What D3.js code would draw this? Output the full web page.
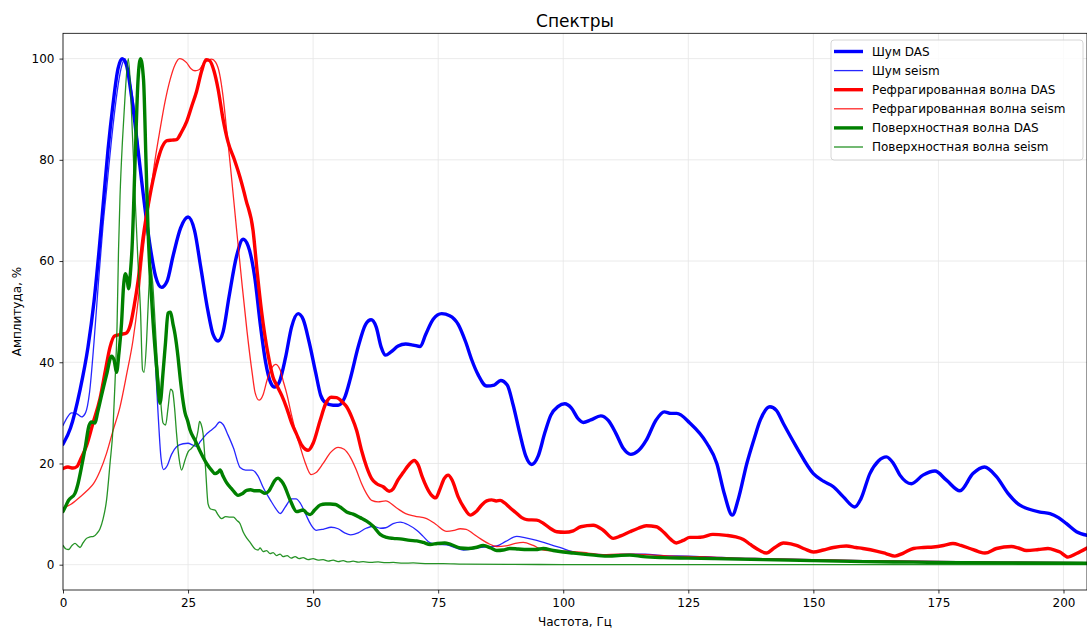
<!DOCTYPE html>
<html>
<head>
<meta charset="utf-8">
<script src="https://cdn.jsdelivr.net/npm/d3@7"></script>
<style>
  html, body { margin: 0; padding: 0; background: #fff; }
  svg { display: block; font-family: "DejaVu Sans", sans-serif; }
</style>
</head>
<body>
<svg id="chart" width="1087" height="628"></svg>
<script>
// ---- Data (frequency Hz, amplitude %) ----
const noiseDas = [[0,23.8],[1.5,27],[3.4,34.5],[5,43],[6.2,52],[7.2,62],[8.1,72],[9,82],[10,91],[11,98],[11.8,100],[12.6,99],[13.7,92.5],[15,82],[15.7,76],[17.4,63],[18.5,57],[19.7,54.8],[20.8,56],[22,61],[23.5,66.5],[25,68.7],[26.3,66],[27.5,59],[29,50],[30,45.5],[31,44.2],[32,46],[33.2,53],[34.7,61],[36,64.3],[37,63],[38.3,57],[39.5,47],[40.5,40],[41.5,36],[42.3,35.1],[43.2,36],[44.5,41],[45.7,47],[47,49.6],[48,48.5],[49.2,44],[50.5,38],[51.5,33.5],[52.5,32],[54,31.5],[55,31.5],[56.3,33],[57.5,37],[59,43],[60.5,47.5],[61.6,48.4],[62.6,47],[63.6,43],[64.5,41.4],[65.5,42],[67,43.2],[68.5,43.6],[70,43.4],[71.4,43.1],[72.5,45.5],[74,48.5],[75.7,49.6],[77.3,49.2],[79,47.5],[80.5,44],[81.7,40.5],[83,37.5],[84.7,35.3],[86.2,35.5],[87.5,36.4],[88.8,35.5],[90,31.5],[91.3,26],[92.5,21.5],[93.7,19.8],[95,21.5],[96.3,26],[97.5,29.5],[99,31.3],[100.3,31.8],[101.6,31],[103,28.8],[104,28.1],[105.5,28.6],[107.5,29.4],[109,28.5],[110.5,26],[112,23],[113.5,21.8],[115,22.5],[116.6,24.6],[118.5,28.5],[120.2,30.2],[121.5,29.9],[122.7,29.9],[125.3,28],[128.7,24],[130.7,20],[132.2,14],[133.8,9.8],[135,13],[136.7,20],[138.2,25],[139.4,28.6],[141.3,31.2],[142.6,30.5],[144,27.9],[146.6,23.3],[150,18],[152,16.5],[154,15.4],[156,13.4],[158.3,11.4],[159.5,13],[161.3,18],[163,20.5],[164.6,21.3],[166,20],[167.3,17.7],[169.6,16],[171.9,17.7],[174.3,18.5],[176.6,16.7],[179.3,14.6],[181.9,18],[184.2,19.3],[186.6,17.4],[188.9,14.1],[191.2,11.8],[193,11],[195.3,10.4],[197.3,10.1],[199,9.3],[200.6,8.1],[202.6,6.5],[204.7,5.8]];

const noiseSeism = [[0,27.5],[0.8,29],[1.7,30],[2.8,29.8],[3.7,29.2],[4.5,30],[5.3,34],[6.2,44],[7.1,56],[8,67],[8.7,74],[9.7,84],[10.7,92.5],[11.6,98],[12.4,100],[13.3,96],[14.4,89],[15.2,81],[16.1,72.5],[17.4,59.5],[18.2,45],[19,30],[19.6,21],[20.1,18.8],[20.8,19.5],[21.7,21.8],[22.7,23.3],[24,23.9],[25,24],[26,23.6],[26.7,23.4],[27.5,24.4],[28.5,25.6],[29.4,26.4],[30.4,27.2],[31.3,28.2],[32,27.7],[33,25.6],[34.1,23],[35.4,19.2],[36.5,18.7],[37.8,18.7],[39,17.5],[40,15.3],[41.5,12.7],[42.6,11],[43.4,10.1],[44.5,11.5],[45.7,13],[46.6,13],[47.4,12.2],[48.5,10],[49.5,8],[50.6,6.8],[52,7],[53.6,7.4],[55,7.1],[56.3,6.3],[57.5,5.9],[59,6.3],[60.6,7.2],[62,7.6],[63.5,7.2],[64.5,7.3],[66,8.1],[67.4,8.4],[69,7.9],[70.7,6.8],[72,5.6],[73.4,4.3],[75,4],[76.7,3.9],[78.5,3.3],[80,2.9],[81.7,3.1],[83.3,3.4],[85,3.5],[86.7,3.7],[88.5,4.6],[90.7,5.6],[92.5,5.3],[94.7,4.8],[97,4.1],[99.3,3.4],[102.6,2.4],[106,2.1],[109.5,2],[113,2.1],[116.4,2.1],[120,1.8],[125,1.7],[130,1.5],[135,1.3],[140,1.2],[145,1.1],[150,1],[155,0.9],[160,0.8],[170,0.7],[180,0.6],[190,0.5],[204.7,0.4]];

const refrDas = [[0,19],[1,19.3],[2,19.1],[2.8,19.4],[3.6,21],[4.7,23.5],[6,28],[7.4,32.8],[8.5,38.5],[9.4,43],[10.3,45.2],[11.5,45.5],[12.7,45.8],[13.5,47.5],[14.2,51],[15,56],[16,64.5],[17.3,72.5],[18.7,79],[19.8,82.5],[20.8,83.8],[21.8,83.9],[22.7,84],[23.7,85.5],[24.7,87.5],[25.7,90.5],[26.7,93.5],[27.7,97.5],[28.6,99.8],[29.3,99.6],[30.2,97.5],[31,94],[32,88],[33,83.5],[34.2,80.2],[35.4,76.5],[36.6,72],[38,66],[38.8,58],[39.7,50],[41,41.5],[42,37],[42.7,35.5],[43.7,33.5],[44.7,31],[45.7,28],[46.6,26],[47.8,23.5],[49,22.6],[50,24],[51.4,28.5],[52.5,31.8],[53.6,33.1],[54.7,33],[55.8,32.2],[56.7,31.2],[57.7,29.2],[58.7,26.5],[59.7,22.5],[60.7,19.3],[61.7,17],[62.7,16],[64,15.4],[65.2,14.5],[66,15],[67,16.8],[68,18.2],[69.2,19.8],[70.2,20.6],[71,19.7],[71.8,17.4],[72.7,15.3],[73.6,13.8],[74.5,13.2],[75.3,14.8],[76.2,17],[77,17.7],[77.8,16.7],[79,13.4],[80.2,11.2],[81.4,9.8],[82.6,10.5],[83.7,11.8],[84.7,12.6],[85.7,12.8],[86.6,12.6],[87.4,12.7],[88.3,12.2],[89.3,11.3],[90.5,10.3],[91.7,9.3],[92.7,8.9],[94.7,8.8],[96,8.2],[97.5,7.1],[98.7,6.5],[100.3,6.4],[102,6.7],[103.5,7.5],[106,7.8],[108,6.8],[110,5.2],[111.5,5.7],[113.3,6.5],[115,7.2],[116.6,7.7],[118.6,7.5],[120.2,6.3],[121.5,5],[122.6,4.3],[124,4.8],[125.3,5.4],[126.8,5.4],[128,5.5],[129.9,6.0],[132.6,5.8],[134.5,5.5],[136,5],[137.4,4],[138.6,3.2],[140.6,2.3],[142.3,3.4],[144,4.3],[145.5,4.1],[146.6,3.8],[148.3,3.1],[150,2.5],[152,2.9],[154,3.4],[156.6,3.7],[158.5,3.4],[159.9,3.2],[162.6,2.7],[164.5,2.2],[166.3,1.7],[168,2.3],[170,3.2],[172,3.4],[174,3.5],[176,3.8],[177.9,4.2],[179.5,3.8],[181.3,3.2],[183,2.6],[184.3,2.3],[186.6,3.2],[189.6,3.6],[191,3.3],[192.6,2.8],[195,3],[196.9,3.2],[198.5,2.8],[199.3,2.5],[200.9,1.5],[202.6,2.2],[204.7,3.3]];

const refrSeism = [[0,11.2],[1.5,11.9],[3.4,13.4],[5,14.8],[6.1,16],[7.4,18.5],[8.7,22],[10,26.5],[11.4,31.2],[12.7,37.5],[14,44.4],[15,52],[16,62],[17.4,72.8],[18.4,80],[19.4,86],[20.4,91.5],[21.4,95.8],[22.4,98.8],[23.3,100],[24.7,99.2],[25.6,98],[26.4,97.6],[27.2,97.8],[27.9,98.7],[28.7,99.5],[29.7,99.9],[30.5,99.3],[31.3,97],[32,92.5],[32.7,86],[33.4,79.4],[34.7,66.2],[35.7,56.3],[36.8,46],[37.8,38],[38.4,34],[39.2,32.5],[40,33.6],[40.8,36.5],[41.8,39],[42.5,39.6],[43.4,38.5],[44.1,36],[44.7,33.9],[45.7,29.5],[46.6,25.9],[47.5,23],[48.3,20.5],[49.6,17.8],[50.6,18.2],[52,20],[53.5,22.2],[55,23.2],[56.2,22.8],[57.4,21.3],[58.6,18.8],[59.7,16],[60.7,14],[61.7,12.7],[63,12.4],[64.5,12.6],[66.7,11.2],[68.5,10.1],[70.3,9.6],[72.7,9.1],[74.5,8],[76.7,6.6],[78.2,6.8],[79.4,7.1],[80.6,7],[82,6.1],[83.5,5.1],[85,4.2],[86.7,3.6],[88.5,3.7],[90.4,4.2],[92,4.4],[94,3.8],[96,2.9],[99.3,2.7],[102,2.6],[105,2.3],[108,2.0],[111,2.1],[114,2.1],[118,1.9],[122,1.7],[126,1.6],[130,1.5],[135,1.3],[140,1.2],[145,1.1],[150,1],[160,0.8],[170,0.7],[180,0.6],[190,0.5],[204.7,0.4]];

const surfDas = [[0,10.5],[0.5,11.5],[1.1,12.7],[2.4,14.1],[3,16],[3.7,19.3],[4.5,23.5],[5.2,27.5],[5.7,28.2],[6.4,28],[6.9,30],[7.6,33],[8.7,37.5],[9.7,41.2],[10.2,40.5],[10.7,38],[11.2,42],[11.7,47.7],[12.1,55],[12.5,57.5],[12.8,56.5],[13.1,54.5],[13.5,58],[13.8,62.5],[14.4,79.4],[15,95.8],[15.5,100],[16.1,95.8],[16.6,79.4],[17,66.2],[17.5,56],[18,48],[18.7,39.1],[19.4,31.9],[20,38],[20.5,44],[21,49.7],[21.5,49.9],[22,47.5],[22.4,45.5],[23,41],[23.4,37.1],[23.9,33],[24.4,30],[24.9,28.5],[25.4,26.6],[26.4,24.6],[27.5,22.2],[28.7,20.0],[29.6,18.8],[30.4,18],[31,18.3],[31.4,18.7],[32,17.5],[32.7,16.2],[33.8,14.9],[35,13.7],[35.8,14],[36.7,14.7],[37.5,14.8],[38.4,14.6],[39.3,14.6],[40.4,14.1],[41.2,14.6],[41.7,15.5],[42.3,16.6],[43,17.1],[43.6,16.6],[44.2,15.7],[45.4,12.8],[46.7,10.5],[48,10.8],[48.7,10.2],[49.4,9.9],[50.3,10.8],[51.4,11.8],[52.5,12],[53.4,12],[54.5,11.9],[55.4,11.4],[56.7,10.4],[58,10],[59.4,9.3],[60.7,8.6],[62,7.6],[63.4,6],[64.7,5.4],[66,5.2],[67.4,5.1],[69.4,4.8],[70.7,4.7],[72,4.4],[73.4,4.0],[74.8,4.2],[76.3,4.3],[77.5,4.0],[79.4,3.3],[81,3.2],[82.5,3.4],[84,3.8],[85.5,3.3],[86.7,2.8],[88,2.9],[89.3,3.2],[91,3.1],[92.7,3.0],[94.5,3.0],[96,3.2],[98,2.8],[100,2.5],[102,2.3],[104,2.1],[107,1.8],[109.3,1.7],[111,1.8],[113.3,1.9],[116,1.6],[120,1.4],[125,1.3],[130,1.2],[135,1.1],[140,1.0],[145,0.9],[150,0.8],[155,0.7],[160,0.6],[170,0.5],[180,0.4],[190,0.35],[204.7,0.3]];

const surfSeism = [[0,3.8],[0.6,3.1],[1.1,3.0],[1.8,3.8],[2.4,4.2],[3,3.7],[3.4,3.4],[4,4.3],[4.7,5.2],[5.4,5.5],[6.1,5.6],[6.8,6.2],[7.4,7.1],[8,9],[8.7,12.7],[9.4,20],[10,27],[10.4,36],[10.8,47],[11.1,62.2],[11.4,72.8],[11.9,84],[12.4,92.5],[13.05,100],[13.4,96],[13.7,89.3],[14.4,72.8],[15,59.6],[15.5,50],[15.9,38.5],[16.2,38],[16.7,44],[17.1,53],[17.5,59],[17.9,56],[18.4,48],[18.8,41],[19.4,33.9],[20,28],[20.5,27.6],[21,31],[21.5,34.7],[21.9,34.3],[22.3,31],[22.7,25.9],[23.2,21],[23.7,18.7],[24.4,20.7],[25,22.3],[25.7,23],[26.4,24],[27,26.5],[27.3,28.3],[27.6,27.8],[28,25.9],[28.5,19],[29,12],[29.5,11],[30.4,10.8],[30.9,10],[31.7,9.1],[32.5,9.5],[33.4,9.4],[34.1,9.4],[34.7,8.8],[35.4,8.1],[36,6.5],[36.7,5.3],[37.4,4.4],[38.4,3.1],[39,2.9],[39.4,3.3],[40,2.6],[40.7,2.8],[41.4,2.2],[42,2.4],[42.7,1.8],[43.4,2.1],[44,1.6],[44.8,1.8],[45.6,1.3],[46.4,1.6],[47.2,1.2],[48,1.4],[49,1.0],[50,1.2],[51,0.9],[52,1.0],[53,0.7],[54,0.9],[55,0.6],[56,0.8],[57,0.55],[58,0.7],[59,0.5],[60,0.6],[61.5,0.45],[63,0.55],[64.5,0.4],[66,0.45],[68,0.3],[70,0.35],[73,0.2],[76,0.2],[80,0.1],[90,0.05],[100,0.03],[120,0.02],[150,0.01],[204.7,0.01]];

const seriesNames = ["Шум DAS", "Шум seism", "Рефрагированная волна DAS", "Рефрагированная волна seism", "Поверхностная волна DAS", "Поверхностная волна seism"];
const seriesData = [noiseDas, noiseSeism, refrDas, refrSeism, surfDas, surfSeism];
const seriesColors = ["#0000ff", "#0000ff", "#ff0000", "#ff0000", "#008000", "#008000"];
const seriesThick = [true, false, true, false, true, false];

const xTicks = [0, 25, 50, 75, 100, 125, 150, 175, 200];
const yTicks = [0, 20, 40, 60, 80, 100];
const titleText = "Спектры";
const xLabel = "Частота, Гц";
const yLabel = "Амплитуда, %";

// ---- Layout ----
const svg = d3.select("#chart");
const pL = 63, pR = 1087, pT = 33.3, pB = 590;
const x = d3.scaleLinear().domain([0, 204.7]).range([pL, pR]);
const y = d3.scaleLinear().domain([-5, 105]).range([pB, pT]);
const thickW = 3.4, thinW = 1.3;

// grid
const grid = svg.append("g");
grid.selectAll("line.gx").data(xTicks).join("line")
  .attr("x1", d => x(d)).attr("x2", d => x(d)).attr("y1", pT).attr("y2", pB)
  .attr("stroke", "#e6e6e6").attr("stroke-width", 0.8);
grid.selectAll("line.gy").data(yTicks).join("line")
  .attr("x1", pL).attr("x2", pR).attr("y1", d => y(d)).attr("y2", d => y(d))
  .attr("stroke", "#e6e6e6").attr("stroke-width", 0.8);

// clip
svg.append("clipPath").attr("id", "clip").append("rect")
  .attr("x", pL).attr("y", pT).attr("width", pR - pL).attr("height", pB - pT);

const line = d3.line().x(d => x(d[0])).y(d => y(d[1])).curve(d3.curveMonotoneX);
const lines = svg.append("g").attr("clip-path", "url(#clip)");
seriesData.forEach((data, i) => {
  lines.append("path").datum(data)
    .attr("d", line)
    .attr("fill", "none")
    .attr("stroke", seriesColors[i])
    .attr("stroke-width", seriesThick[i] ? thickW : thinW)
    .attr("stroke-opacity", seriesThick[i] ? 1 : 0.85)
    .attr("stroke-linejoin", "round")
    .attr("stroke-linecap", "round");
});

// axes
const xAxis = d3.axisBottom(x).tickValues(xTicks).tickSize(3.5).tickPadding(5).tickFormat(d3.format("d"));
const yAxis = d3.axisLeft(y).tickValues(yTicks).tickSize(3.5).tickPadding(5).tickFormat(d3.format("d"));
const gx = svg.append("g").attr("transform", `translate(0,${pB})`).call(xAxis);
const gy = svg.append("g").attr("transform", `translate(${pL},0)`).call(yAxis);
[gx, gy].forEach(g => {
  g.select(".domain").remove();
  g.selectAll("text").attr("font-size", 12).attr("font-family", "DejaVu Sans").attr("fill", "#000");
  g.selectAll("line").attr("stroke", "#000").attr("stroke-width", 0.8);
});

// frame
svg.append("rect").attr("x", pL).attr("y", pT).attr("width", pR - pL).attr("height", pB - pT)
  .attr("fill", "none").attr("stroke", "#000").attr("stroke-width", 0.8);

// title & labels
svg.append("text").attr("x", (pL + pR) / 2).attr("y", 27).attr("text-anchor", "middle")
  .attr("font-size", 17).attr("fill", "#000").text(titleText);
svg.append("text").attr("x", (pL + pR) / 2).attr("y", 625.5).attr("text-anchor", "middle")
  .attr("font-size", 12).attr("fill", "#000").text(xLabel);
svg.append("text").attr("transform", `translate(21,${(pT + pB) / 2}) rotate(-90)`)
  .attr("text-anchor", "middle").attr("font-size", 12).attr("fill", "#000").text(yLabel);

// legend
const lg = svg.append("g");
lg.append("rect").attr("x", 831).attr("y", 40).attr("width", 252).attr("height", 120)
  .attr("rx", 3).attr("fill", "#fff").attr("fill-opacity", 0.8).attr("stroke", "#cccccc").attr("stroke-width", 0.8);
seriesNames.forEach((name, i) => {
  const cy = 51.5 + i * 19.1;
  lg.append("line").attr("x1", 834).attr("x2", 863).attr("y1", cy).attr("y2", cy)
    .attr("stroke", seriesColors[i]).attr("stroke-width", seriesThick[i] ? thickW : thinW)
    .attr("stroke-opacity", seriesThick[i] ? 1 : 0.85);
  lg.append("text").attr("x", 872).attr("y", cy).attr("dy", "0.35em")
    .attr("font-size", 12).attr("fill", "#000").text(name);
});
</script>
</body>
</html>
